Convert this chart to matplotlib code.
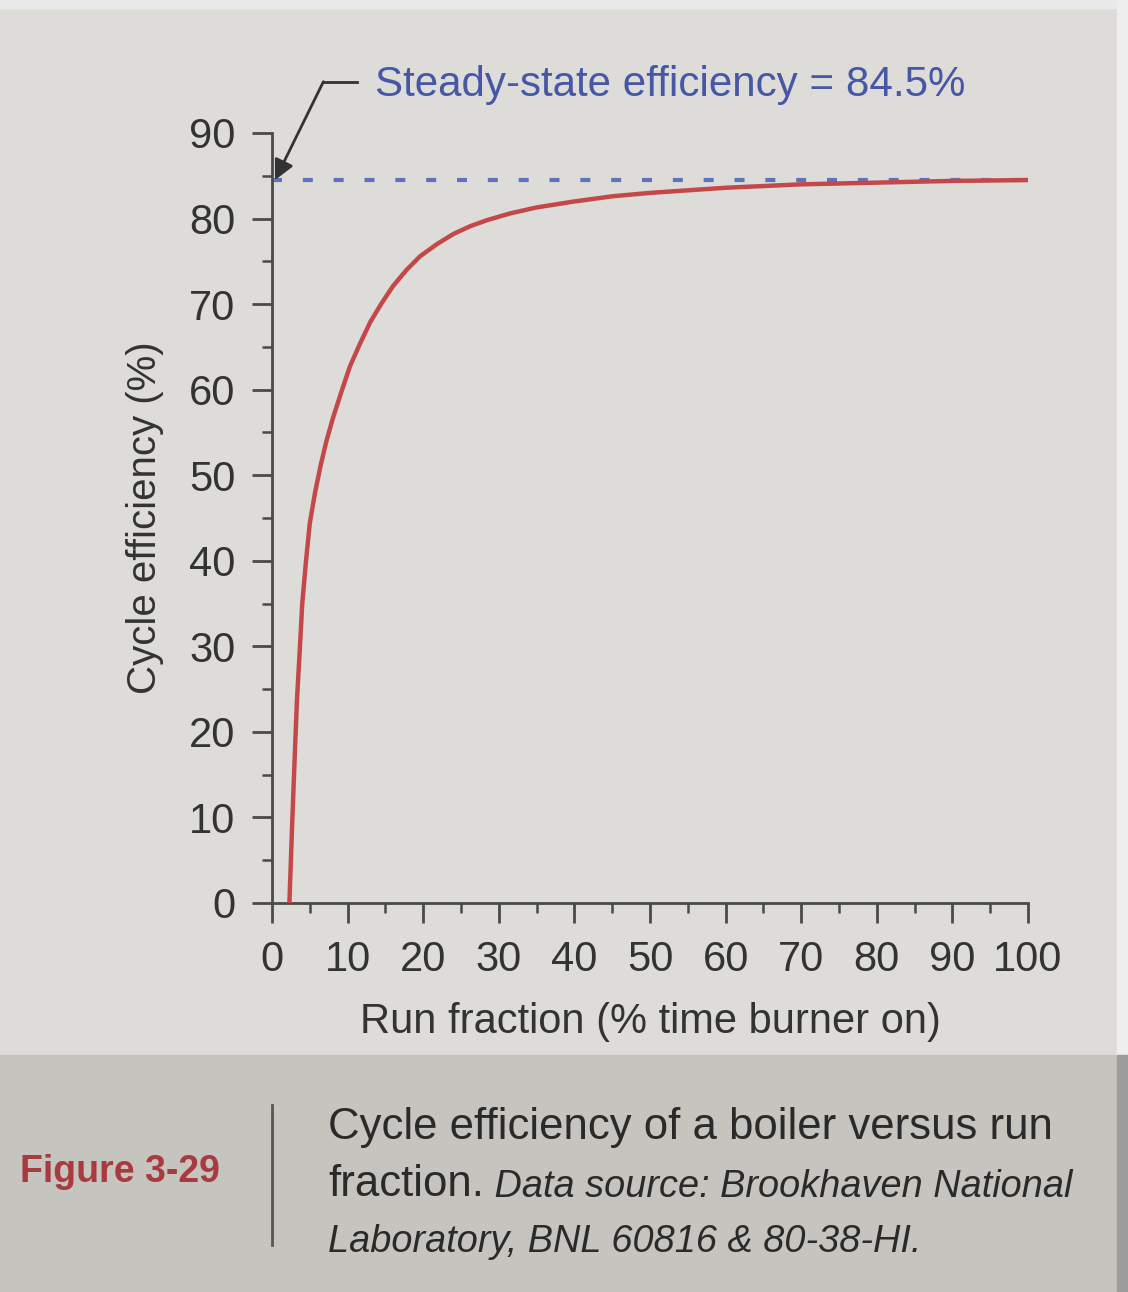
import matplotlib.pyplot as plt
import matplotlib as mpl
from matplotlib.patches import Rectangle
from matplotlib.ticker import MultipleLocator

mpl.rcParams.update({
    'font.family': ['Liberation Sans', 'DejaVu Sans'],
    'axes.linewidth': 2.0,
    'xtick.major.width': 2.0,
    'ytick.major.width': 2.0,
    'xtick.minor.width': 1.8,
    'ytick.minor.width': 1.8,
})

# ---------- Data ----------
run_fraction = [2.3, 2.7, 3.0, 3.3, 3.7, 4.0, 4.5, 5.0, 5.7, 6.4, 7.2, 8.1, 9.2,
                10.3, 11.6, 13.0, 14.5, 16.0, 17.8, 19.6, 21.8, 24.0, 26.2, 28.4,
                31.5, 35.0, 40.0, 45.0, 50.0, 55.0, 60.0, 70.0, 80.0, 90.0, 100.0]
cycle_eff = [0.0, 10.0, 17.0, 23.7, 30.0, 35.0, 40.0, 44.4, 48.0, 51.0, 54.0, 56.8, 59.8,
             62.7, 65.3, 67.9, 70.1, 72.1, 74.0, 75.6, 77.0, 78.2, 79.1, 79.8,
             80.6, 81.3, 82.0, 82.6, 83.0, 83.3, 83.6, 84.0, 84.2, 84.4, 84.5]
steady_state = 84.5
x_ticks = [0, 10, 20, 30, 40, 50, 60, 70, 80, 90, 100]
y_ticks = [0, 10, 20, 30, 40, 50, 60, 70, 80, 90]

paper = '#dddcd8'
band = '#c6c4be'
axis_col = '#4a4a4a'
text_col = '#333333'
blue = '#4657a6'
red = '#c4484a'

W, H = 1128, 1292
fig = plt.figure(figsize=(W / 100, H / 100), dpi=100, facecolor=paper)

# caption band and photo edges
fig.patches.append(Rectangle((0, 0), 1, 237 / H, transform=fig.transFigure,
                             color=band, zorder=0))
fig.patches.append(Rectangle((0, 1 - 8 / H), 1, 8 / H, transform=fig.transFigure,
                             color='#e9e9e9', zorder=0))
fig.patches.append(Rectangle((1 - 11 / W, 237 / H), 11 / W, 1, transform=fig.transFigure,
                             color='#eeeeee', zorder=0))
fig.patches.append(Rectangle((1 - 11 / W, 0), 11 / W, 237 / H, transform=fig.transFigure,
                             color='#9c9c9c', zorder=0))

ax = fig.add_axes([272 / W, 1 - 903 / H, 756 / W, 770 / H])
ax.set_facecolor('none')

ax.plot([0, 100], [steady_state, steady_state], color='#5f72bd', lw=3,
        dashes=(2.4, 5.0), clip_on=False, zorder=2)
ax.plot(run_fraction, cycle_eff, color=red, lw=3.2, clip_on=False,
        solid_capstyle='butt', solid_joinstyle='round', zorder=3)

ax.set_xlim(0, 100)
ax.set_ylim(0, 90)
ax.set_xticks(x_ticks)
ax.set_yticks(y_ticks)
ax.xaxis.set_minor_locator(MultipleLocator(5))
ax.yaxis.set_minor_locator(MultipleLocator(5))
for s in ['top', 'right']:
    ax.spines[s].set_visible(False)
for s in ['left', 'bottom']:
    ax.spines[s].set_color(axis_col)
ax.tick_params(which='major', length=14.5, pad=12, colors=axis_col,
               labelsize=30, labelcolor=text_col)
ax.tick_params(which='minor', length=7, colors=axis_col)

ax.set_xlabel('Run fraction (% time burner on)', fontsize=30, color=text_col, labelpad=16)
ax.set_ylabel('Cycle efficiency (%)', fontsize=29, color=text_col, labelpad=18)

# steady-state annotation with leader
ax.plot([11.2, 6.8], [96.0, 96.0], color='#333333', lw=2, clip_on=False)
ax.annotate('', xy=(0.4, steady_state), xytext=(6.8, 96.0),
            arrowprops=dict(arrowstyle='-|>', color='#333333', lw=2,
                            mutation_scale=30, shrinkA=0, shrinkB=0),
            annotation_clip=False)
ax.text(13.6, 95.6, 'Steady-state efficiency = 84.5%', fontsize=30.3, color=blue,
        va='center', ha='left', clip_on=False)

# caption
fig.text(20 / W, 1 - 1172 / H, 'Figure 3-29', fontsize=27, fontweight='bold',
         color='#a83b40', va='center', ha='left')
fig.add_artist(plt.Line2D([272 / W, 272 / W], [1 - 1105 / H, 1 - 1245 / H],
                          color='#555555', lw=2))
cap_col = '#2a2a2a'
fig.text(328 / W, 1 - 1128 / H, 'Cycle efficiency of a boiler versus run',
         va='center', ha='left', fontsize=31.5, color=cap_col)
t2 = fig.text(328 / W, 1 - 1205 / H, 'fraction.', va='bottom', ha='left',
              fontsize=31.5, color=cap_col)
fig.canvas.draw()
bb = t2.get_window_extent()
fig.text(bb.x1 / W, 1 - 1205 / H, ' Data source: Brookhaven National', va='bottom',
         ha='left', fontsize=27.3, color=cap_col, style='italic')
fig.text(328 / W, 1 - 1242 / H, 'Laboratory, BNL 60816 & 80-38-HI.', va='center',
         ha='left', fontsize=27.3, color=cap_col, style='italic')

fig.savefig('out.png', dpi=100, facecolor=paper)
